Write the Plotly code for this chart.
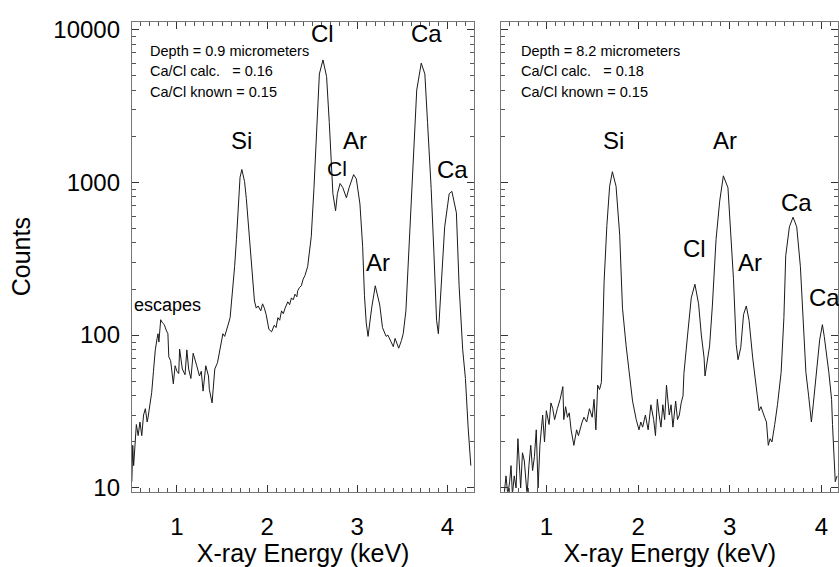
import plotly.graph_objects as go

# ---------------- data ----------------
energy_left = [0.50, 0.51, 0.52, 0.53, 0.55, 0.57, 0.59, 0.61, 0.63, 0.65, 0.67, 0.68, 0.70, 0.72, 0.74,
               0.76, 0.78, 0.79, 0.80, 0.82, 0.84, 0.86, 0.88, 0.90, 0.91, 0.93, 0.96, 0.98, 1.00, 1.02,
               1.03, 1.05, 1.06, 1.09, 1.11, 1.13, 1.155, 1.18, 1.20, 1.22, 1.25, 1.27, 1.29, 1.32, 1.35,
               1.36, 1.39, 1.42, 1.45, 1.47, 1.49, 1.51, 1.53, 1.55, 1.57, 1.59, 1.62, 1.64, 1.66, 1.68,
               1.70, 1.72, 1.75, 1.77, 1.79, 1.81, 1.83, 1.86, 1.88, 1.90, 1.93, 1.95, 1.97, 1.99, 2.02,
               2.05, 2.08, 2.10, 2.12, 2.14, 2.16, 2.18, 2.20, 2.22, 2.23, 2.25, 2.27, 2.29, 2.31, 2.33,
               2.34, 2.36, 2.38, 2.40, 2.42, 2.45, 2.47, 2.49, 2.52, 2.55, 2.58, 2.62, 2.66, 2.69, 2.71,
               2.73, 2.76, 2.78, 2.81, 2.84, 2.88, 2.91, 2.96, 2.99, 3.03, 3.06, 3.08, 3.10, 3.12, 3.16,
               3.20, 3.23, 3.25, 3.28, 3.30, 3.32, 3.34, 3.36, 3.38, 3.40, 3.42, 3.44, 3.46, 3.49, 3.51,
               3.54, 3.56, 3.58, 3.60, 3.62, 3.64, 3.66, 3.71, 3.75, 3.78, 3.82, 3.85, 3.88, 3.90, 3.93,
               3.97, 4.02, 4.05, 4.10, 4.13, 4.17, 4.20, 4.23, 4.26]
counts_left = [11, 19, 14, 17, 26, 22, 27, 22, 30, 33, 27, 29, 36, 42, 58,
               80, 95, 102, 90, 126, 120, 117, 108, 102, 72, 68, 48, 63, 58, 56,
               81, 62, 60, 55, 80, 60, 52, 76, 70, 63, 54, 58, 43, 63, 54,
               44, 36, 60, 66, 78, 88, 102, 98, 106, 118, 130, 193, 280, 420, 700,
               1075, 1210, 1010, 780, 565, 380, 260, 167, 150, 155, 144, 160, 150, 136, 109,
               105, 116, 112, 130, 125, 144, 138, 150, 160, 165, 158, 175, 170, 185, 178,
               195, 205, 210, 232, 245, 280, 340, 440, 910, 2450, 5100, 6300, 4900, 2450, 1350,
               840, 650, 840, 980, 920, 790, 920, 1120, 1050, 720, 380, 182, 120, 98, 150,
               210, 180, 157, 112, 105, 98, 100, 95, 90, 84, 95, 88, 82, 92, 102,
               144, 250, 440, 800, 1350, 2400, 4000, 6000, 5100, 2450, 910, 350, 125, 102, 210,
               510, 840, 870, 630, 210, 80, 52, 25, 14]

energy_right = [0.52, 0.54, 0.56, 0.58, 0.60, 0.615, 0.63, 0.65, 0.67, 0.69, 0.72, 0.74, 0.76, 0.79, 0.81,
                0.83, 0.85, 0.87, 0.89, 0.91, 0.93, 0.96, 0.98, 1.00, 1.03, 1.05, 1.07, 1.09, 1.12, 1.15,
                1.18, 1.19, 1.21, 1.23, 1.25, 1.27, 1.30, 1.33, 1.35, 1.37, 1.39, 1.41, 1.44, 1.47, 1.50,
                1.52, 1.54, 1.56, 1.58, 1.60, 1.61, 1.63, 1.66, 1.69, 1.72, 1.76, 1.80, 1.83, 1.87, 1.91,
                1.94, 1.98, 2.01, 2.03, 2.05, 2.08, 2.11, 2.14, 2.17, 2.19, 2.21, 2.23, 2.25, 2.27, 2.29,
                2.31, 2.34, 2.36, 2.38, 2.41, 2.43, 2.45, 2.47, 2.49, 2.50, 2.54, 2.58, 2.62, 2.66, 2.69,
                2.72, 2.73, 2.76, 2.78, 2.81, 2.85, 2.89, 2.93, 2.98, 3.01, 3.04, 3.07, 3.09, 3.12, 3.15,
                3.18, 3.21, 3.25, 3.29, 3.32, 3.34, 3.36, 3.38, 3.40, 3.42, 3.44, 3.46, 3.49, 3.52, 3.56,
                3.59, 3.61, 3.65, 3.69, 3.73, 3.77, 3.80, 3.83, 3.86, 3.89, 3.91, 3.94, 3.98, 4.01, 4.03,
                4.08, 4.11, 4.12, 4.14, 4.15, 4.17]
counts_right = [8, 9, 12, 9, 11, 14, 9, 12, 10, 21, 10, 17, 15, 9, 14,
                19, 13, 16, 24, 10, 19, 30, 20, 32, 26, 36, 33, 28, 33, 38,
                46, 28, 34, 29, 31, 24, 19, 24, 22, 25, 27, 29, 27, 33, 29,
                38, 24, 47, 44, 49, 94, 225, 520, 940, 1170, 940, 450, 150, 85, 53,
                37, 28, 24, 27, 25, 30, 24, 35, 28, 22, 38, 30, 25, 35, 28,
                47, 30, 35, 25, 37, 28, 30, 36, 40, 56, 100, 175, 215, 160, 100,
                71, 54, 71, 85, 155, 420, 750, 1100, 920, 465, 235, 87, 69, 83, 136,
                155, 125, 71, 45, 32, 34, 31, 29, 27, 19, 21, 20, 26, 35, 57,
                130, 330, 510, 590, 510, 280, 125, 57, 40, 27, 35, 53, 93, 117, 98,
                57, 38, 26, 14, 11, 12]

x_tick_vals = [1, 2, 3, 4]
x_tick_text = ["1", "2", "3", "4"]
y_tick_vals = [10, 100, 1000, 10000]
y_tick_text = ["10", "100", "1000", "10000"]

left_info = ["Depth = 0.9 micrometers", "Ca/Cl calc.\u00a0\u00a0\u00a0= 0.16", "Ca/Cl known = 0.15"]
right_info = ["Depth = 8.2 micrometers", "Ca/Cl calc.\u00a0\u00a0\u00a0= 0.18", "Ca/Cl known = 0.15"]

# peak labels: (text, energy, log10 count position, size)
left_peaks = [("Cl", 2.617, 3.975, 24), ("Ca", 3.77, 3.975, 24), ("Si", 1.72, 3.27, 24),
              ("Ar", 2.971, 3.27, 24), ("Cl", 2.78, 3.09, 21), ("Ca", 4.056, 3.08, 24),
              ("Ar", 3.226, 2.475, 24)]
right_peaks = [("Si", 1.73, 3.27, 24), ("Ar", 2.95, 3.27, 24), ("Cl", 2.614, 2.565, 24),
               ("Ar", 3.225, 2.475, 24), ("Ca", 3.726, 2.865, 24), ("Ca", 4.03, 2.245, 24)]

FONT = "Liberation Sans, Arial, Helvetica, sans-serif"

minor_y = [m * 10 ** d for d in range(1, 4) for m in range(2, 10)]

fig = go.Figure()
fig.add_trace(go.Scatter(x=energy_left, y=counts_left, mode="lines",
                         line=dict(color="#1a1a1a", width=1), xaxis="x", yaxis="y", showlegend=False))
fig.add_trace(go.Scatter(x=energy_right, y=counts_right, mode="lines",
                         line=dict(color="#1a1a1a", width=1), xaxis="x2", yaxis="y2", showlegend=False))

yrange = [0.975, 4.05]

def xaxis_common(rng, dom, anchor):
    return dict(domain=dom, range=rng, anchor=anchor, tickmode="array", tickvals=x_tick_vals,
                ticktext=x_tick_text, ticks="inside", ticklen=7, tickcolor="#333", tickwidth=1,
                showline=True, linecolor="#777", linewidth=1, mirror="allticks", showgrid=False,
                zeroline=False, tickfont=dict(size=24, color="black", family=FONT),
                ticklabelstandoff=13,
                minor=dict(tickmode="linear", tick0=0, dtick=0.1, ticks="inside", ticklen=4,
                           tickcolor="#555", showgrid=False),
                title=dict(text="X-ray Energy (keV)", font=dict(size=25, color="black", family=FONT),
                           standoff=5))

def yaxis_common(dom, anchor, labels):
    return dict(domain=dom, type="log", range=yrange, anchor=anchor, tickmode="array",
                tickvals=y_tick_vals, ticktext=y_tick_text, ticks="inside", ticklen=7,
                tickcolor="#333", showline=True, linecolor="#777", linewidth=1, mirror="allticks",
                showgrid=False, zeroline=False, showticklabels=labels,
                tickfont=dict(size=24, color="black", family=FONT), ticklabelstandoff=6,
                minor=dict(tickmode="array", tickvals=minor_y, ticks="inside", ticklen=4,
                           tickcolor="#555", showgrid=False))

ydom = [1 - 499 / 567, 1 - 16 / 567]
fig.update_layout(
    width=839, height=567,
    margin=dict(l=0, r=0, t=0, b=0),
    paper_bgcolor="white", plot_bgcolor="white",
    font=dict(family=FONT, color="black"),
    xaxis=xaxis_common([0.50, 4.30], [132 / 839, 475 / 839], "y"),
    xaxis2=xaxis_common([0.51, 4.18], [502 / 839, 1.0], "y2"),
    yaxis=yaxis_common(ydom, "x", True),
    yaxis2=yaxis_common(ydom, "x2", False),
)
fig.layout.yaxis.title = dict(text="Counts", font=dict(size=25, color="black", family=FONT), standoff=15)

ann = []
for i, t in enumerate(left_info):
    ann.append(dict(text=t, x=0.679, y=[3.859, 3.725, 3.591][i], xref="x", yref="y",
                    xanchor="left", yanchor="middle", showarrow=False,
                    font=dict(size=14.5, color="black", family=FONT)))
for i, t in enumerate(right_info):
    ann.append(dict(text=t, x=0.706, y=[3.859, 3.725, 3.591][i], xref="x2", yref="y2",
                    xanchor="left", yanchor="middle", showarrow=False,
                    font=dict(size=14.5, color="black", family=FONT)))
for t, xv, yv, s in left_peaks:
    ann.append(dict(text=t, x=xv, y=yv, xref="x", yref="y", showarrow=False,
                    xanchor="center", yanchor="middle", font=dict(size=s, color="black", family=FONT)))
for t, xv, yv, s in right_peaks:
    ann.append(dict(text=t, x=xv, y=yv, xref="x2", yref="y2", showarrow=False,
                    xanchor="center", yanchor="middle", font=dict(size=s, color="black", family=FONT)))
ann.append(dict(text="escapes", x=0.505, y=2.197, xref="x", yref="y", showarrow=False,
                xanchor="left", yanchor="middle", font=dict(size=18, color="black", family=FONT)))
fig.update_layout(annotations=ann)

fig.write_html("out.html")
